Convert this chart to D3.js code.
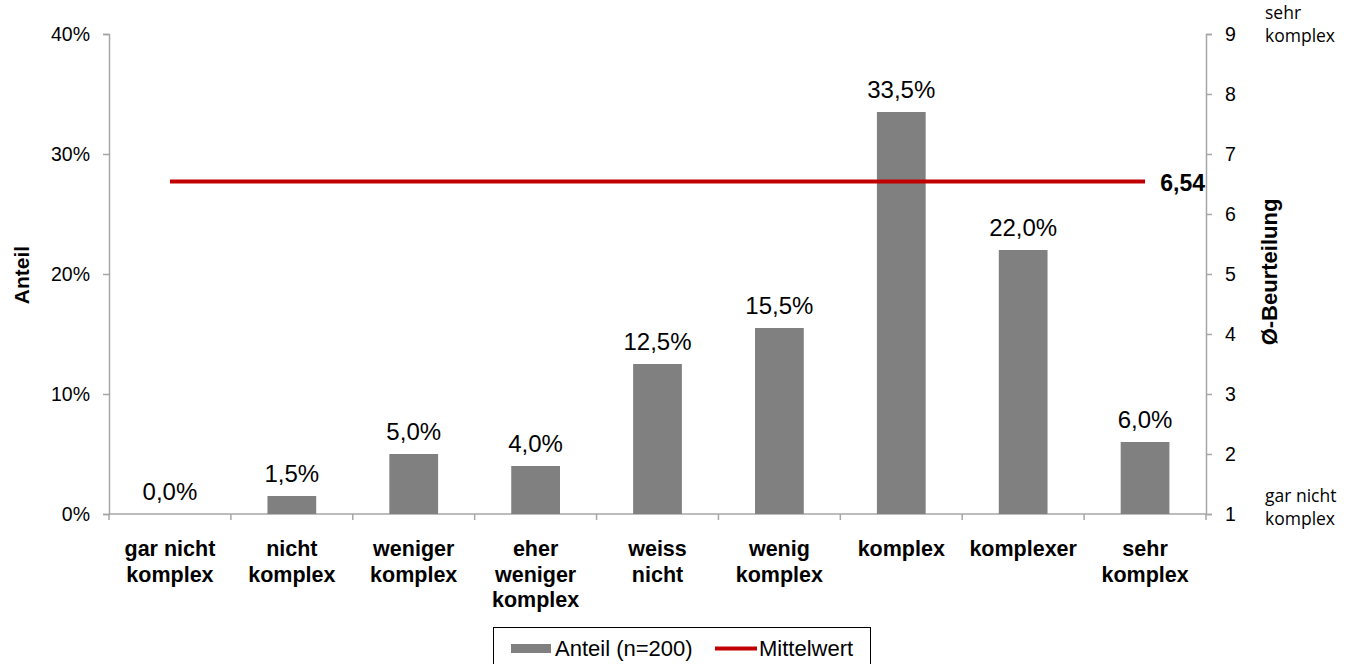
<!DOCTYPE html>
<html>
<head>
<meta charset="utf-8">
<script src="https://cdn.jsdelivr.net/npm/d3@7"></script>
<style>
  html, body { margin: 0; padding: 0; background: #fff; }
  svg text { font-family: "Liberation Sans", Arial, sans-serif; }
</style>
</head>
<body>
<svg id="chart" width="1351" height="664"></svg>
<script>
// Category labels (multi-line)
const categories = [
  ["gar nicht", "komplex"],
  ["nicht", "komplex"],
  ["weniger", "komplex"],
  ["eher", "weniger", "komplex"],
  ["weiss", "nicht"],
  ["wenig", "komplex"],
  ["komplex"],
  ["komplexer"],
  ["sehr", "komplex"]
];
// Share of answers in percent (n=200)
const shares = [0.0, 1.5, 5.0, 4.0, 12.5, 15.5, 33.5, 22.0, 6.0];
// Mean rating on the 1..9 scale
const meanRating = 6.54;
const leftTicks = [0, 10, 20, 30, 40];
const rightTicks = [1, 2, 3, 4, 5, 6, 7, 8, 9];

const svg = d3.select("#chart");
const plotLeft = 109, plotRight = 1206, plotTop = 34, plotBottom = 514;
const axisColor = "#a6a6a6";

const x = d3.scaleBand().domain(d3.range(categories.length)).range([plotLeft, plotRight]).paddingInner(0).paddingOuter(0);
const yL = d3.scaleLinear().domain([0, 40]).range([plotBottom, plotTop]);
const yR = d3.scaleLinear().domain([1, 9]).range([plotBottom, plotTop]);
const fmt = v => d3.format(".1f")(v).replace(".", ",") + "%";

// Left axis
const gL = svg.append("g").attr("transform", `translate(${plotLeft},0)`)
  .call(d3.axisLeft(yL).tickValues(leftTicks).tickSize(6).tickPadding(13).tickFormat(d => d + "%"));
// Right axis
const gR = svg.append("g").attr("transform", `translate(${plotRight},0)`)
  .call(d3.axisRight(yR).tickValues(rightTicks).tickSize(6).tickPadding(13).tickFormat(d3.format("d")));
[gL, gR].forEach(g => {
  g.select(".domain").attr("stroke", axisColor).attr("stroke-width", 1.5);
  g.selectAll(".tick line").attr("stroke", axisColor).attr("stroke-width", 1.5);
  g.selectAll(".tick text").attr("fill", "#000").style("font-size", "19.5px")
    .style("font-family", "'Liberation Sans', Arial, sans-serif");
});

// Category axis baseline and separators
const gX = svg.append("g");
gX.append("line").attr("x1", plotLeft).attr("x2", plotRight).attr("y1", plotBottom).attr("y2", plotBottom)
  .attr("stroke", axisColor).attr("stroke-width", 1.5);
const bounds = d3.range(categories.length + 1).map(i => i < categories.length ? x(i) : plotRight);
gX.selectAll("line.sep").data(bounds).join("line").attr("class", "sep")
  .attr("x1", d => d).attr("x2", d => d).attr("y1", plotBottom).attr("y2", plotBottom + 6)
  .attr("stroke", axisColor).attr("stroke-width", 1.5);

// Category labels
const lab = svg.append("g");
categories.forEach((lines, i) => {
  const cx = x(i) + x.bandwidth() / 2;
  const t = lab.append("text").attr("text-anchor", "middle")
    .attr("x", cx).attr("y", 556)
    .style("font-size", "21.5px").style("font-weight", "bold").attr("fill", "#000");
  lines.forEach((l, j) => t.append("tspan").attr("x", cx).attr("dy", j === 0 ? 0 : 25.5).text(l));
});

// Bars
const barW = x.bandwidth() * 0.4;
svg.append("g").selectAll("rect").data(shares).join("rect")
  .attr("x", (d, i) => x(i) + (x.bandwidth() - barW) / 2)
  .attr("y", d => yL(d))
  .attr("width", barW)
  .attr("height", d => plotBottom - yL(d))
  .attr("fill", "#808080");

// Value labels
svg.append("g").selectAll("text").data(shares).join("text")
  .attr("text-anchor", "middle")
  .attr("x", (d, i) => x(i) + x.bandwidth() / 2)
  .attr("y", d => yL(d) - 14)
  .style("font-size", "24px").attr("fill", "#000")
  .text(fmt);

// Mean line across category centers
const cFirst = x(0) + x.bandwidth() / 2;
const cLast = x(categories.length - 1) + x.bandwidth() / 2;
svg.append("line")
  .attr("x1", cFirst).attr("x2", cLast)
  .attr("y1", yR(meanRating)).attr("y2", yR(meanRating))
  .attr("stroke", "#c00000").attr("stroke-width", 4);
svg.append("text").attr("x", plotRight - 1).attr("y", yR(meanRating) + 9)
  .attr("text-anchor", "end").style("font-size", "23px").style("font-weight", "bold")
  .text(String(meanRating).replace(".", ","));

// Axis titles
svg.append("text").attr("transform", `translate(29,${(plotTop + plotBottom) / 2 + 1}) rotate(-90)`)
  .attr("text-anchor", "middle").style("font-size", "21px").style("font-weight", "bold").text("Anteil");
svg.append("text").attr("transform", `translate(1277,${(plotTop + plotBottom) / 2 - 2}) rotate(-90)`)
  .attr("text-anchor", "middle").style("font-size", "22px").style("font-weight", "bold").text("Ø-Beurteilung");

// Scale end descriptions on the right
const endLabels = [
  { lines: ["sehr", "komplex"], y: 19 },
  { lines: ["gar nicht", "komplex"], y: 502 }
];
endLabels.forEach(e => {
  const t = svg.append("text").attr("x", 1265).attr("y", e.y)
    .style("font-size", "17.5px").style("font-family", "'Open Sans', 'Noto Sans', sans-serif").attr("fill", "#000");
  e.lines.forEach((l, j) => t.append("tspan").attr("x", 1265).attr("dy", j === 0 ? 0 : 23).text(l));
});

// Legend
const lg = svg.append("g");
lg.append("rect").attr("x", 493.5).attr("y", 627.5).attr("width", 377).attr("height", 40)
  .attr("fill", "#fff").attr("stroke", "#000").attr("stroke-width", 1);
lg.append("rect").attr("x", 511).attr("y", 644).attr("width", 40).attr("height", 9).attr("fill", "#808080");
lg.append("text").attr("x", 555).attr("y", 656).style("font-size", "22px").text("Anteil (n=200)");
lg.append("line").attr("x1", 715).attr("x2", 757).attr("y1", 648.5).attr("y2", 648.5)
  .attr("stroke", "#c00000").attr("stroke-width", 4);
lg.append("text").attr("x", 759).attr("y", 656).style("font-size", "22px").text("Mittelwert");
</script>
</body>
</html>
